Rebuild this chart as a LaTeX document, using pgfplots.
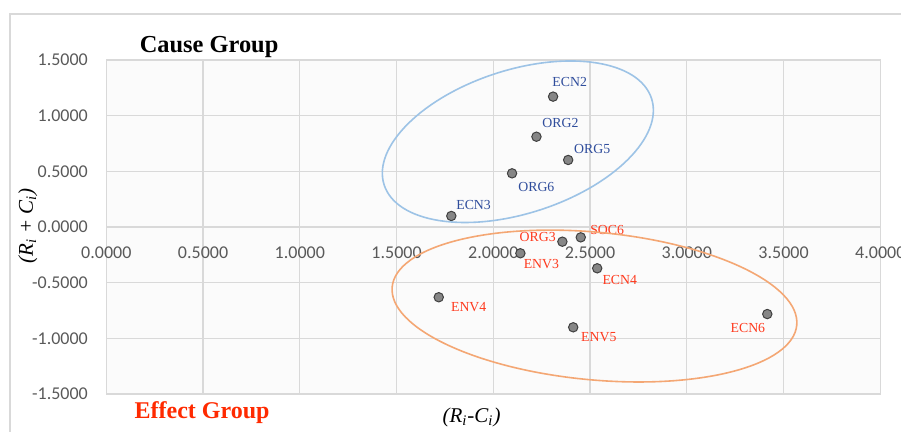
\documentclass[border=0pt]{standalone}
\usepackage{fontspec}
\setmainfont{Liberation Serif}
\newfontfamily\tickfont{Carlito}
\usepackage{pgfplots}
\pgfplotsset{compat=1.18}
\definecolor{tickgray}{HTML}{595959}
\definecolor{gridgray}{HTML}{D9D9D9}
\definecolor{labblue}{HTML}{2F4D9C}
\definecolor{labred}{HTML}{FF3A1E}
\definecolor{ellblue}{HTML}{9DC3E6}
\definecolor{ellorange}{HTML}{F4A774}
\definecolor{markgray}{HTML}{868686}
\definecolor{markedge}{HTML}{404040}
\definecolor{effred}{HTML}{FF2A00}
\definecolor{plotbg}{HTML}{FBFBFB}

\begin{document}
\begin{tikzpicture}
\path[use as bounding box] (-53.15pt,-19pt) rectangle (397.35pt,197pt);
\draw[gridgray, line width=0.65pt] (-48.15pt,-30pt) -- (-48.15pt,190pt) -- (420pt,190pt);
\begin{axis}[
  at={(0,0)}, anchor=south west,
  scale only axis, width=387pt, height=167pt,
  xmin=0, xmax=4, ymin=-1.5, ymax=1.5,
  xtick={0,0.5,...,4}, ytick={-1.5,-1,...,1.5},
  grid=major, grid style={gridgray, line width=0.6pt},
  axis line style={gridgray, line width=0.6pt},
  major tick length=0pt,
  tick label style={font=\tickfont\fontsize{9}{10}\selectfont, text=tickgray},
  /pgf/number format/.cd, fixed, fixed zerofill, precision=4, assume math mode=true, /pgfplots/.cd,
  xticklabel style={yshift=77pt},
  yticklabel style={xshift=-5.7pt},
  axis background/.style={fill=plotbg},
  clip=false,
]
\addplot[only marks, mark=*, mark size=2.35pt,
  mark options={fill=markgray, draw=markedge, line width=0.5pt},
  nodes near coords, point meta=explicit symbolic,
  visualization depends on={\thisrow{dx} \as \dx},
  visualization depends on={\thisrow{dy} \as \dy},
  nodes near coords style={anchor=center, xshift=\dx*1pt, yshift=\dy*1pt, text=labblue, font=\fontsize{6.9}{7}\selectfont, inner sep=0pt}
] table[x=x, y=y, meta=lab]{
x y lab dx dy
2.309 1.171 ECN2 8.3 7.5
2.223 0.811 ORG2 12 6.7
2.387 0.602 ORG5 12 5.35
2.097 0.482 ORG6 12.15 -6.7
1.783 0.099 ECN3 11.15 5.5
};
\addplot[only marks, mark=*, mark size=2.35pt,
  mark options={fill=markgray, draw=markedge, line width=0.5pt},
  nodes near coords, point meta=explicit symbolic,
  visualization depends on={\thisrow{dx} \as \dx},
  visualization depends on={\thisrow{dy} \as \dy},
  nodes near coords style={anchor=center, xshift=\dx*1pt, yshift=\dy*1pt, text=labred, font=\fontsize{6.9}{7}\selectfont, inner sep=0pt}
] table[x=x, y=y, meta=lab]{
x y lab dx dy
2.452 -0.093 SOC6 13.2 3.65
2.357 -0.132 ORG3 -12.35 2.5
2.140 -0.236 ENV3 10.5 -5.5
2.537 -0.371 ECN4 11.3 -5.85
1.718 -0.631 ENV4 15 -5
2.413 -0.901 ENV5 12.8 -4.7
3.416 -0.782 ECN6 -9.7 -7.15
};
\coordinate (bc) at (axis cs:2.127,0.766);
\coordinate (oc) at (axis cs:2.523,-0.710);
\end{axis}
\draw[ellblue, line width=0.8pt, rotate around={17.9:(bc)}] (bc) ellipse [x radius=70.25pt, y radius=35.85pt];
\draw[ellorange, line width=0.8pt, rotate around={-5.4:(oc)}] (oc) ellipse [x radius=101.6pt, y radius=36.9pt];
\node[font=\bfseries\fontsize{12.2}{14}\selectfont] at (51.4pt,173.5pt) {Cause Group};
\node[font=\bfseries\fontsize{12}{14}\selectfont, text=effred] at (47.9pt,-9.5pt) {Effect Group};
\node[font=\itshape\fontsize{10.5}{12}\selectfont, rotate=90] at (-39.2pt,84pt) {(R\textsubscript{i} + C\textsubscript{i})};
\node[font=\itshape\fontsize{10.5}{12}\selectfont] at (182.6pt,-11.5pt) {(R\textsubscript{i}-C\textsubscript{i})};
\end{tikzpicture}
\end{document}
